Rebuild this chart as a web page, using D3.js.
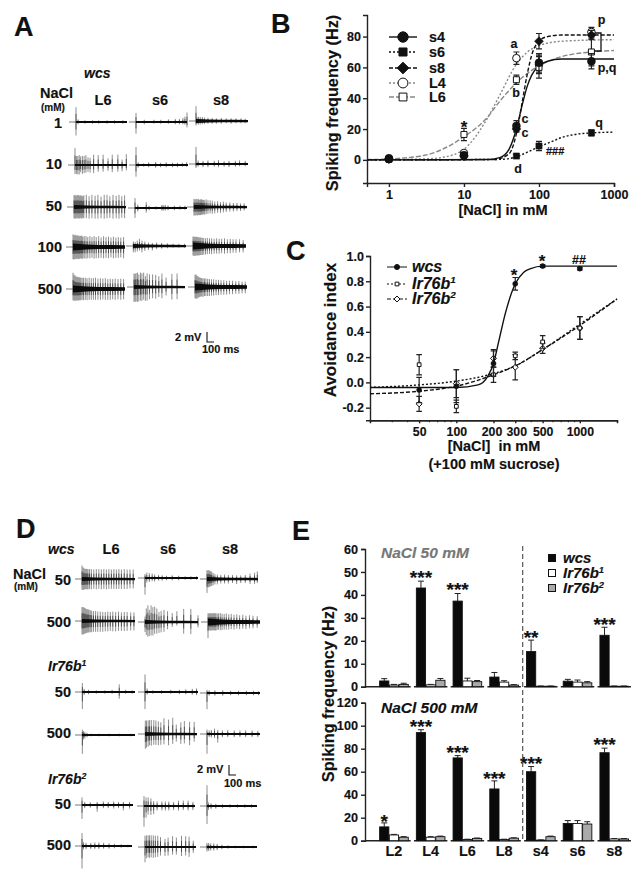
<!DOCTYPE html>
<html>
<head>
<meta charset="utf-8">
<script src="https://cdn.jsdelivr.net/npm/d3@7"></script>
<style>
  html, body { margin: 0; padding: 0; background: #fff; }
  svg { display: block; }
  text { font-family: "Liberation Sans", Arial, sans-serif; font-weight: bold; fill: #111; stroke: #111; stroke-width: 0.15; white-space: pre; }
  .ax path, .ax line { stroke: #222; stroke-width: 1.4; }
  .ax.minor line { stroke-width: 1; }
</style>
</head>
<body>
<svg id="fig" width="643" height="876"></svg>
<script>
"use strict";

// panel B : dose response, [NaCl] mM vs Hz
var doseB = [1, 10, 50, 100, 500];
var s4Val = [1, 3, 22, 63, 64], s4Err = [1, 1.5, 3.5, 6, 5];
var s6Val = [0.5, 3, 2.5, 9, 17.5], s6Err = [0.5, 1, 1, 3, 2];
var s8Val = [0.5, 2.5, 20, 77, 81], s8Err = [0.5, 1, 2, 5, 3];
var L4Val = [0.5, 4.5, 66, 62, 83], L4Err = [0.5, 1.5, 4, 6, 3];
var L6Val = [0.5, 16.5, 52, 60, 70], L6Err = [0.5, 4, 3, 7, 9];
var s4Fit = [[0.51, 0], [20, 0.2], [30, 1.5], [40, 7], [50, 20], [60, 36], [70, 48], [80, 55], [100, 61], [130, 64], [200, 65.5], [1000, 65.5]];
var s6Fit = [[0.51, 0], [30, 0.3], [50, 2], [70, 5], [100, 8.5], [150, 12], [200, 14.5], [300, 16.5], [500, 17.5], [1000, 18]];
var s8Fit = [[0.51, 0], [25, 0.2], [40, 4], [50, 17], [60, 38], [70, 56], [80, 68], [100, 77], [130, 80], [200, 81], [1000, 81]];
var L4Fit = [[0.51, 0], [1, 0.2], [3, 0.6], [5, 1.5], [10, 7], [20, 26], [30, 42], [50, 62], [70, 70], [100, 74], [200, 77], [1000, 78]];
var L6Fit = [[0.51, 0.2], [1, 0.6], [3, 3], [10, 15], [20, 27], [30, 38], [50, 50], [100, 61], [200, 67], [500, 70], [1000, 71]];

// panel C : avoidance index
var doseC = [50, 100, 200, 300, 500, 1000];
var wcsVal = [-0.06, -0.03, 0.15, 0.78, 0.92, 0.9], wcsErr = [0.1, 0.13, 0.1, 0.05, 0.01, 0.01];
var ir1Val = [0.14, -0.19, 0.06, 0.21, 0.32, 0.43], ir1Err = [0.08, 0.05, 0.06, 0.03, 0.05, 0.09];
var ir2Val = [-0.17, -0.01, 0.19, 0.12, 0.27, 0.43], ir2Err = [0.06, 0.11, 0.07, 0.1, 0.04, 0.09];
var wcsFit = [[20, -0.04], [100, -0.04], [150, -0.02], [180, 0.05], [200, 0.15], [220, 0.32], [250, 0.55], [300, 0.78], [350, 0.87], [400, 0.9], [500, 0.92], [2000, 0.92]];
var ir1Fit = [[20, -0.04], [50, -0.02], [100, 0.01], [200, 0.07], [300, 0.13], [500, 0.26], [1000, 0.46], [2000, 0.66]];
var ir2Fit = [[20, -0.09], [50, -0.07], [100, -0.03], [200, 0.06], [300, 0.13], [500, 0.26], [1000, 0.45], [2000, 0.66]];

// panel E : bars
var sensilla = ["L2", "L4", "L6", "L8", "s4", "s6", "s8"];
var genotypes = ["wcs", "ir1", "ir2"];
var wcs50 = [2.5, 43, 37.3, 4.2, 15.3, 2.4, 22.4], wcs50Err = [1, 3, 3.3, 2, 5, 0.8, 3.5];
var ir150 = [0.7, 0.8, 2.5, 2, 0.2, 2, 0.2], ir150Err = [0.3, 0.2, 1.2, 0.6, 0.1, 0.9, 0.1];
var ir250 = [1, 2.8, 2.2, 0.7, 0.2, 1.7, 0.2], ir250Err = [0.5, 0.8, 0.5, 0.2, 0.1, 0.5, 0.1];
var wcs500 = [12, 94, 72, 45, 60, 15, 76.5], wcs500Err = [3.5, 2.5, 2, 7, 4.5, 2.5, 4];
var ir1500 = [5, 3, 1, 1, 0.5, 15, 1.5], ir1500Err = [0.5, 0.5, 0.3, 0.3, 0.2, 2.5, 0.3];
var ir2500 = [3, 3.5, 2, 2.2, 3.5, 14.5, 1.5], ir2500Err = [0.5, 0.5, 0.3, 0.3, 0.5, 2, 0.3];
var stars50 = [["L4", "***", 47.4], ["L6", "***", 42.1], ["s4", "**", 21.2], ["s8", "***", 26.9]];
var stars500 = [["L2", "*", 16], ["L4", "***", 98.9], ["L6", "***", 76.3], ["L8", "***", 53.7], ["s4", "***", 66.7], ["s8", "***", 83.2]];

// recordings, each spike is [ms, up mV, down mV]
var a1L6 = [[0,3.3,3],[30,.6,.5],[130,.4,.4],[240,.4,.4],[330,.4,.4],[450,.4,.4],[560,.4,.4],[680,.4,.4]];
var a1s6 = [[0,2,2.6],[120,.5,.5],[260,.5,.4],[360,.5,.4],[470,.6,.4],[570,.7,.5],[630,.7,.5],[680,.9,.5],[710,1.2,.6],[740,2.1,1.2]];
var a1s8 = [[0,3.3,1],[15,.9,.7],[35,.9,.8],[60,.9,.8],[90,.9,.7],[120,.8,.7],[170,.7,.6],[230,.7,.6],[290,.6,.6],[360,.7,.6],[430,.6,.5],[500,.6,.6],[570,.6,.5],[640,.6,.5],[700,.5,.5]];
var a2L6 = [[0,3.8,2],[20,2,2],[40,2,2.1],[60,2.2,2.1],[80,1.9,1.6],[105,2,2],[130,2,1.8],[155,2.2,1.7],[185,1.7,1.5],[215,1.6,1.7],[265,2.3,1.8],[330,2.2,1.5],[400,2.3,1.5],[470,1.5,1.3],[530,2.3,1.6],[610,2.3,1.5],[670,1.2,1.4],[730,2.4,1.2]];
var a2s6 = [[0,4,2.6],[30,.6,.6],[110,.4,.4],[180,.6,.5],[280,.7,.6],[350,.5,.5],[430,.6,.5],[520,.5,.5],[590,.5,.5],[660,.5,.4],[720,.6,.4]];
var a2s8 = [[0,3.8,.9],[30,.8,.6],[100,.7,.7],[170,.8,.7],[260,.7,.6],[320,.9,.7],[400,.6,.6],[470,.7,.7],[560,.7,.6],[620,.8,.5],[700,.7,.5]];
var a3L6 = [[0,2.6,2.5],[14,2.7,2.6],[28,2.5,2.6],[42,2.6,2.4],[56,2.7,2.6],[70,2.6,2.5],[84,2.5,2.6],[98,2.6,2.4],[112,2.5,2.6],[126,2.4,2.4],[140,2.6,2.5],[175,2.7,2.5],[215,2.4,2.6],[255,2.7,2.5],[300,2.5,2.6],[340,2.7,2.6],[385,2.3,2.5],[430,2.7,2.6],[470,2.7,2.5],[510,2.4,2.4],[555,2.7,2.6],[600,2.5,2.5],[640,2.7,2.6],[680,2.4,2.4],[720,2.6,2.5]];
var a3s6 = [[0,2.2,2.2],[40,.8,.8],[160,1.3,1],[200,.5,.5],[300,.4,.4],[380,.6,.5],[400,.7,.6],[430,.7,.6],[470,.6,.5],[560,.5,.5],[640,.5,.4],[710,.5,.4]];
var a3s8 = [[0,1.8,1.9],[15,1.7,1.9],[30,1.8,1.8],[45,1.7,1.9],[60,1.8,1.8],[75,1.6,1.8],[90,1.7,1.8],[105,1.7,1.7],[120,1.6,1.7],[135,1.6,1.6],[150,1.5,1.7],[170,1.7,1.6],[195,1.5,1.5],[225,1.5,1.4],[255,1.4,1.5],[290,1.2,1.4],[330,1.3,1.3],[370,1.1,1.3],[410,1.2,1.2],[450,1,1.1],[500,1,1],[550,.9,1],[600,.9,.9],[650,.8,.9],[700,.8,.8]];
var a4L6 = [[0,2.8,2.7],[14,2.7,2.8],[28,2.6,2.7],[42,2.7,2.6],[56,2.5,2.7],[70,2.6,2.6],[84,2.5,2.7],[98,2.4,2.6],[112,2.5,2.5],[126,2.5,2.6],[140,2.3,2.6],[160,2.4,2.5],[185,2.4,2.6],[210,2.2,2.5],[240,2.4,2.5],[270,2.2,2.4],[300,2.4,2.6],[330,2.2,2.5],[365,2.4,2.5],[400,2.1,2.4],[435,2.4,2.5],[470,2.2,2.4],[505,2.3,2.5],[540,2.1,2.3],[575,2.3,2.5],[610,2.1,2.4],[645,2.2,2.4],[680,2.1,2.3],[720,2.2,2.5]];
var a4s6 = [[5,1,1.4],[30,.9,1.4],[60,1.2,1.2],[90,1.6,1],[125,1.2,1.4],[165,1,1.1],[215,.8,.9],[270,.7,1],[330,.8,.7],[400,.7,.6],[480,.6,.5],[560,.5,.4],[640,.5,.4],[720,.5,.4]];
var a4s8 = [[0,2.1,2.1],[14,2.1,2.2],[28,2,2.2],[42,2.1,2.1],[56,2,2.1],[70,2,2.1],[84,1.9,2.1],[98,1.9,2],[112,1.9,2],[130,1.8,2],[150,1.8,1.9],[175,1.7,1.9],[200,1.8,1.8],[230,1.7,1.8],[260,1.7,1.8],[295,1.6,1.7],[330,1.7,1.7],[365,1.6,1.7],[400,1.6,1.6],[440,1.7,1.7],[480,1.5,1.6],[520,1.6,1.6],[560,1.5,1.5],[600,1.5,1.5],[650,1.5,1.4],[700,1.3,1.4]];
var a5L6 = [[0,3.6,2.5],[14,3.2,2.6],[28,3,2.6],[42,2.8,2.6],[56,2.7,2.5],[70,2.7,2.6],[84,2.6,2.5],[98,2.6,2.5],[112,2.5,2.5],[130,2.5,2.4],[150,2.5,2.5],[175,2.5,2.4],[200,2.4,2.5],[230,2.5,2.4],[260,2.4,2.4],[290,2.4,2.4],[320,2.5,2.4],[355,2.3,2.4],[390,2.4,2.4],[425,2.3,2.3],[460,2.4,2.4],[495,2.2,2.4],[530,2.3,2.4],[565,2.2,2.3],[600,2.3,2.4],[640,2.2,2.3],[680,2.3,2.4],[720,2.2,2.3]];
var a5s6 = [[0,3,3.3],[15,2.9,3.3],[30,3.1,3.2],[50,3.2,3.3],[70,2.8,3.2],[95,3.2,3],[115,3,3.1],[140,3.2,2.8],[165,2.4,3.1],[190,3,3],[225,2.8,2.7],[270,2.8,2.5],[315,2.7,2.6],[360,2.4,2.2],[405,3,2.5],[465,2.1,1.9],[550,2.9,2.8],[625,3,2.7]];
var a5s8 = [[0,2.7,2.5],[14,2.8,2.6],[28,2.5,2.6],[42,2.4,2.4],[56,2.2,2.3],[70,2.1,2.2],[84,2,2.1],[98,2,2.1],[115,1.9,2.2],[135,1.9,2],[155,1.9,2],[180,1.8,2],[205,1.8,2],[235,1.7,1.9],[265,1.7,1.9],[300,1.6,1.8],[335,1.6,1.8],[370,1.5,1.7],[410,1.5,1.7],[450,1.4,1.7],[490,1.4,1.6],[535,1.4,1.6],[580,1.3,1.5],[625,1.3,1.5],[670,1.2,1.4],[715,1.2,1.4]];

var d1L6 = [[0,3,2.4],[14,2.6,2.4],[28,2.4,2.4],[42,2.2,2.3],[56,2.3,2.2],[70,2.2,2.3],[84,2.2,2.3],[105,2.2,2.2],[130,2.2,2.3],[165,2.1,2.2],[200,2.2,2.3],[235,2.2,2.2],[270,2.1,2.3],[305,2.2,2.2],[340,2.1,2.3],[375,2.2,2.2],[410,2.1,2.2],[445,2.2,2.2],[480,2.1,2.2],[515,2.2,2.2],[550,2.1,2.2],[590,2.2,2.2],[630,2.1,2.2],[670,2.1,2.1],[715,2.1,2.1]];
var d1s6 = [[0,.9,3.7],[25,1.2,1],[60,1.1,.9],[100,1,.7],[135,.8,.8],[190,.7,.6],[240,.6,.6],[300,.5,.5],[380,.6,.5],[470,.5,.5],[560,.4,.4],[640,.4,.4],[720,.4,.4]];
var d1s8 = [[0,2,3.1],[14,1.8,1.9],[28,2,1.8],[42,1.8,1.7],[56,1.7,1.6],[70,1.6,1.5],[90,1.3,1.4],[115,1.1,1.2],[150,1,1.2],[200,.9,1],[255,1,1],[310,.9,1],[370,.9,.9],[430,.8,1.1],[490,.8,.9],[555,.9,.9],[625,1.2,1.1],[690,1.4,1.1],[730,1.7,.9]];
var d2L6 = [[0,3.1,3],[14,3.1,3],[28,3,2.9],[42,2.9,2.8],[56,2.7,2.7],[70,2.6,2.6],[84,2.6,2.6],[98,2.5,2.5],[115,2.4,2.5],[135,2.3,2.5],[160,2.2,2.4],[190,2.2,2.4],[220,2.1,2.4],[255,2.1,2.4],[290,2,2.4],[325,2,2.3],[360,2.1,2.3],[395,2,2.2],[430,2.1,2.3],[470,2,2.3],[510,2.1,2.2],[550,1.9,2.2],[590,2,2.2],[630,2,2.2],[680,1.9,2.1],[725,1.9,2.1]];
var d2s6 = [[0,1.2,2.2],[18,3,2.9],[40,3.7,3.3],[60,2.7,3.1],[85,3.7,3],[110,3.3,3],[135,3.4,2.6],[165,3,2.6],[195,2.2,2.4],[225,2.5,2.3],[265,2.7,2.2],[315,2.4,1.6],[380,2,1.1],[445,2.4,.8],[540,2.9,2.6],[640,2.9,2.7],[740,1.5,1.2]];
var d2s8 = [[0,1.9,3.6],[14,1.9,1.8],[28,2,1.9],[42,1.9,1.9],[56,1.9,1.8],[70,2,1.9],[84,1.9,1.8],[98,2,1.9],[112,1.9,1.9],[130,1.9,1.8],[150,1.9,1.7],[175,2,1.8],[200,1.8,1.8],[230,1.8,1.7],[260,1.9,1.7],[295,1.7,1.7],[330,1.8,1.6],[370,1.6,1.7],[410,1.7,1.5],[450,1.5,1.6],[495,1.6,1.5],[540,1.4,1.6],[590,1.5,1.4],[640,1.4,1.4],[700,1.3,1.3]];
var d3L6 = [[5,2,3.8],[30,.7,.7],[90,.5,.5],[200,.4,.4],[320,.4,.4],[420,.5,.4],[520,1.7,1.5],[610,.5,.4],[700,.4,.4]];
var d3s6 = [[0,3.9,3.8],[30,.8,.6],[110,.4,.4],[230,.4,.4],[360,.5,.4],[480,.5,.5],[570,.6,.5],[660,.7,.6],[720,.8,.7]];
var d3s8 = [[0,.7,3.6],[30,.6,.6],[110,.6,.6],[220,.6,.6],[330,.5,.5],[440,.5,.5],[550,.5,.5],[650,.5,.5],[720,.4,.5]];
var d4L6 = [[5,1.2,4.2],[20,.9,1],[40,.7,.8],[70,.5,.5],[130,.3,.3],[240,.3,.3],[380,.3,.3],[520,.3,.3],[680,.3,.3]];
var d4s6 = [[5,3,3.3],[22,3,3],[45,3,2.8],[65,3.1,2.5],[90,3.1,2.6],[125,3.1,2.4],[155,3,2.4],[190,2.8,2.5],[225,2.6,2.4],[270,3.5,2.3],[335,3.2,2.5],[395,3.6,2.2],[445,2.1,1.7],[510,2.6,2.2],[560,2.9,2.1],[635,2.7,2.5],[700,2.7,1.7]];
var d4s8 = [[0,1,4.4],[30,.8,.7],[60,.9,.8],[105,1.2,.9],[150,.9,1.9],[215,.8,.7],[290,.9,.7],[380,.8,.7],[460,.8,.7],[540,.8,.7],[630,.8,.7],[710,.7,.7]];
var d5L6 = [[0,1.7,3.1],[40,.7,.7],[120,.6,.6],[220,.7,1.5],[310,.8,.7],[380,.7,.7],[460,.8,.8],[530,.7,.7],[600,.7,1.2],[690,.7,.8]];
var d5s6 = [[0,2.2,4.6],[30,1.9,2.6],[60,1.9,1.9],[100,1.7,2],[140,1.1,1.8],[190,1,1],[260,1,1],[310,1,1],[360,1,1],[430,.9,.9],[500,1.2,1],[570,1.2,.9],[640,1.2,1],[710,.9,.9]];
var d5s8 = [[0,4.6,4],[20,.8,.9],[60,.6,.7],[130,.5,.6],[230,.4,.5],[340,.4,.4],[450,.4,.4],[560,.4,.4],[660,.4,.4]];
var d6L6 = [[0,2.9,5],[20,.9,.8],[60,.7,.7],[130,.7,.7],[190,.8,.7],[250,.8,.7],[320,.7,.6],[400,.6,.6],[480,.5,.5],[580,.4,.4],[680,.3,.3]];
var d6s6 = [[0,2.5,3.4],[20,2.6,2.5],[45,2.6,2.3],[65,2.6,2.4],[90,2.6,2.3],[120,2.6,2.4],[150,2.5,2.3],[185,2.5,2.2],[225,2.2,1.9],[290,1.8,2],[335,2.1,1.9],[400,2.4,1.7],[455,2.1,1.7],[530,2.5,2],[590,2.4,1.9],[640,2.3,2.2],[700,1.4,1.3]];
var d6s8 = [[0,.9,1],[25,.9,.9],[55,.8,.8],[100,.8,.8],[150,.7,.7],[220,.5,.5],[310,.4,.4],[420,.3,.3],[540,.3,.3],[680,.3,.3]];

// half height of the dark baseline along each trace, mV
var coreThin = [.24, .22, .2, .22, .2];
var coreMid = [.45, .35, .3, .28, .25];
var coreFat = [.8, .55, .45, .42, .38];

var svg = d3.select("#fig");

// equal sided diamond, d3's own one is too narrow
var rhomb = {
  draw: function(ctx, size) {
    var r = Math.sqrt(size / 2);
    ctx.moveTo(0, -r);
    ctx.lineTo(r, 0);
    ctx.lineTo(0, r);
    ctx.lineTo(-r, 0);
    ctx.closePath();
  }
};

// ---------- helpers
function label(x, y, txt, size, anchor, extra) {
  var t = svg.append("text")
    .attr("x", x).attr("y", y)
    .attr("font-size", size)
    .attr("text-anchor", anchor || "start")
    .text(txt);
  if (extra) extra(t);
  return t;
}

function italic(t) { t.attr("font-style", "italic"); }

function withSup(x, y, name, sup, size) {
  var t = label(x, y, name, size, "start", italic);
  t.append("tspan").attr("dy", -size * 0.35).attr("font-size", size * 0.62).text(sup);
}

function vTitle(x, y, txt, size) {
  svg.append("text")
    .attr("transform", "translate(" + x + "," + y + ") rotate(-90)")
    .attr("text-anchor", "middle")
    .attr("font-size", size)
    .text(txt);
}

function drawTrace(t) {
  var g = svg.append("g");
  var time = d3.scaleLinear().domain([0, 740]).range([t[0], t[1]]);
  var volt = d3.scaleLinear().domain([-1, 1]).range([t[2] + 4.5, t[2] - 4.5]);

  g.append("line")
    .attr("x1", t[0] - 7).attr("x2", t[0])
    .attr("y1", t[2]).attr("y2", t[2])
    .attr("stroke", "#555").attr("stroke-width", 0.8);

  // pale tips, darker towards the baseline
  g.selectAll("line.spike").data(t[3]).enter().append("line")
    .attr("class", "spike")
    .attr("x1", function(d) { return time(d[0]); })
    .attr("x2", function(d) { return time(d[0]); })
    .attr("y1", function(d) { return volt(d[1]); })
    .attr("y2", function(d) { return volt(-d[2]); })
    .attr("stroke", "#444")
    .attr("stroke-opacity", 0.6)
    .attr("stroke-width", 1);
  g.selectAll("line.inner").data(t[3]).enter().append("line")
    .attr("class", "inner")
    .attr("x1", function(d) { return time(d[0]); })
    .attr("x2", function(d) { return time(d[0]); })
    .attr("y1", function(d) { return volt(d[1] * 0.55); })
    .attr("y2", function(d) { return volt(-d[2] * 0.55); })
    .attr("stroke", "#111")
    .attr("stroke-opacity", 0.55)
    .attr("stroke-width", 1);

  var area = d3.area()
    .x(function(d, i) { return time(i * 185); })
    .y0(function(d) { return volt(d); })
    .y1(function(d) { return volt(-d); });
  g.append("path").datum(t[4]).attr("d", area).attr("fill", "#0a0a0a");
}

// ---------- panel A
label(14, 36, "A", 27);
label(84, 78, "wcs", 14, "start", italic);
label(40, 98, "NaCl", 14.5);
label(41, 111, "(mM)", 10);
[["L6", 103], ["s6", 160], ["s8", 221]].forEach(function(c) { label(c[1], 105, c[0], 14.5, "middle"); });
[["1", 128], ["10", 169], ["50", 211], ["100", 252], ["500", 294]].forEach(function(r) { label(62, r[1], r[0], 14.5, "end"); });

var tracesA = [
  [76, 127, 122, a1L6, coreThin], [136, 187, 122, a1s6, coreThin], [196, 248, 121, a1s8, coreMid],
  [75, 127, 165, a2L6, coreThin], [136, 188, 165, a2s6, coreThin], [196, 248, 164, a2s8, coreThin],
  [74, 126, 207, a3L6, coreMid], [135, 187, 208, a3s6, coreThin], [194, 247, 207, a3s8, coreMid],
  [73, 125, 247, a4L6, coreFat], [133, 186, 246, a4s6, coreMid], [193, 246, 246, a4s8, coreFat],
  [73, 125, 289, a5L6, coreFat], [134, 185, 287, a5s6, coreMid], [195, 247, 287, a5s8, coreFat]
];
tracesA.forEach(drawTrace);

label(175, 341, "2 mV", 11);
label(202, 353, "100 ms", 11);
svg.append("path").attr("d", "M207,332V342H214").attr("fill", "none").attr("stroke", "#111").attr("stroke-width", 1.1);

// ---------- panel B
label(271, 33, "B", 27);
var xB = d3.scaleLog().domain([0.51, 1000]).range([367, 614]);
var yB = d3.scaleLinear().domain([-15, 94]).range([183, 15]);

svg.append("g").attr("class", "ax").attr("transform", "translate(0,183)")
  .call(d3.axisBottom(xB).tickValues([1, 10, 100, 1000]).tickFormat(d3.format("d")).tickSizeOuter(0).tickSize(4).tickPadding(3))
  .selectAll("text").attr("font-size", 12.5);
svg.append("g").attr("class", "ax").attr("transform", "translate(367,0)")
  .call(d3.axisLeft(yB).tickValues([0, 20, 40, 60, 80]).tickSizeOuter(0).tickSize(4).tickPadding(2))
  .selectAll("text").attr("font-size", 12.5);
svg.selectAll(".ax text").attr("fill", null).attr("font-family", null);

vTitle(338, 103, "Spiking frequency (Hz)", 16.3);
label(503, 215, "[NaCl] in mM", 14.6, "middle");

var lineB = d3.line().x(function(d) { return xB(d[0]); }).y(function(d) { return yB(d[1]); }).curve(d3.curveMonotoneX);

var seriesB = [
  { name: "L4", vals: L4Val, errs: L4Err, fit: L4Fit, sym: d3.symbolCircle, size: 45, open: true, color: "#888", dash: "2,2" },
  { name: "L6", vals: L6Val, errs: L6Err, fit: L6Fit, sym: d3.symbolSquare, size: 36, open: true, color: "#888", dash: "5,2" },
  { name: "s6", vals: s6Val, errs: s6Err, fit: s6Fit, sym: d3.symbolSquare, size: 38, color: "#111", dash: "2,2" },
  { name: "s4", vals: s4Val, errs: s4Err, fit: s4Fit, sym: d3.symbolCircle, size: 50, color: "#111", dash: null },
  { name: "s8", vals: s8Val, errs: s8Err, fit: s8Fit, sym: rhomb, size: 40, color: "#111", dash: "4,2" }
];

function errBars(xScale, yScale, xs, s, cap) {
  svg.append("g").selectAll("path").data(xs).enter().append("path")
    .attr("d", function(d, i) {
      var x = xScale(d), hi = yScale(s.vals[i] + s.errs[i]), lo = yScale(s.vals[i] - s.errs[i]);
      return "M" + (x - cap) + "," + hi + "H" + (x + cap) + "M" + x + "," + hi + "V" + lo + "M" + (x - cap) + "," + lo + "H" + (x + cap);
    })
    .attr("fill", "none").attr("stroke", "#222").attr("stroke-width", 1.2);
}

function marks(xScale, yScale, xs, s) {
  svg.append("g").selectAll("path").data(xs).enter().append("path")
    .attr("d", d3.symbol().type(s.sym).size(s.size))
    .attr("transform", function(d, i) { return "translate(" + xScale(d) + "," + yScale(s.vals[i]) + ")"; })
    .attr("fill", s.open ? "#fff" : "#111")
    .attr("stroke", "#111").attr("stroke-width", s.open ? 1 : 0.5);
}

seriesB.forEach(function(s) {
  svg.append("path").datum(s.fit).attr("d", lineB)
    .attr("fill", "none").attr("stroke", s.color).attr("stroke-width", 1.4)
    .attr("stroke-dasharray", s.dash);
});
seriesB.forEach(function(s) {
  errBars(xB, yB, doseB, s, 3);
  marks(xB, yB, doseB, s);
});

// legend B
[["s4", 37], ["s6", 52], ["s8", 68], ["L4", 83], ["L6", 97]].forEach(function(r) {
  var s = seriesB.filter(function(d) { return d.name === r[0]; })[0];
  svg.append("line").attr("x1", 389).attr("x2", 417).attr("y1", r[1]).attr("y2", r[1])
    .attr("stroke", s.color).attr("stroke-width", 1.4).attr("stroke-dasharray", s.dash);
  svg.append("path").attr("d", d3.symbol().type(s.sym).size(s.size * 1.7)())
    .attr("transform", "translate(403," + r[1] + ")")
    .attr("fill", s.open ? "#fff" : "#111").attr("stroke", "#111");
  label(429, r[1] + 5, r[0], 14.4);
});

[["a", 514, 48], ["b", 516, 97], ["c", 525, 123], ["c", 525, 136.5], ["d", 518, 173], ["p", 601.5, 24], ["p,q", 607, 72], ["q", 599, 127]].forEach(function(a) {
  label(a[1], a[2], a[0], 12.5, "middle");
});
label(546, 155, "###", 11);
label(464, 132.5, "*", 17, "middle");
svg.append("path").attr("d", "M595,33H601V51H595").attr("fill", "none").attr("stroke", "#111").attr("stroke-width", 1.3);

// ---------- panel C
label(286, 260, "C", 27);
var xC = d3.scaleLog().domain([20, 2000]).range([370, 617]);
var yC = d3.scaleLinear().domain([-0.3, 1]).range([420.3, 256]);

svg.append("g").attr("class", "ax minor").attr("transform", "translate(0,420.3)")
  .call(d3.axisBottom(xC).tickValues([20, 30, 40, 60, 70, 80, 90, 400, 600, 700, 800, 900, 2000]).tickFormat("").tickSizeOuter(0).tickSize(2));
var ticksC = svg.append("g").attr("class", "ax").attr("transform", "translate(0,420.3)")
  .call(d3.axisBottom(xC).tickValues(doseC).tickFormat(d3.format("d")).tickSizeOuter(0).tickSize(3).tickPadding(4));
ticksC.selectAll("text").attr("font-size", 12.3)
  .attr("dx", function(d) { return d === 200 ? -2 : d === 300 ? 1 : 0; });
svg.append("g").attr("class", "ax").attr("transform", "translate(370,0)")
  .call(d3.axisLeft(yC).tickValues([-0.2, 0, 0.2, 0.4, 0.6, 0.8, 1]).tickFormat(function(d) { return d.toFixed(1); }).tickSizeOuter(0).tickSize(4).tickPadding(2))
  .selectAll("text").attr("font-size", 12.5);
svg.selectAll(".ax text").attr("fill", null).attr("font-family", null);

vTitle(336, 330, "Avoidance index", 17);
label(494, 451, "[NaCl]  in mM", 14.5, "middle");
label(494, 469, "(+100 mM sucrose)", 14.5, "middle");

var lineC = d3.line().x(function(d) { return xC(d[0]); }).y(function(d) { return yC(d[1]); }).curve(d3.curveMonotoneX);
var seriesC = [
  { vals: ir2Val, errs: ir2Err, fit: ir2Fit, sym: rhomb, size: 18, open: true, dash: "4,2" },
  { vals: ir1Val, errs: ir1Err, fit: ir1Fit, sym: d3.symbolSquare, size: 14, open: true, dash: "2,2" },
  { vals: wcsVal, errs: wcsErr, fit: wcsFit, sym: d3.symbolCircle, size: 20, dash: null }
];
seriesC.forEach(function(s) {
  svg.append("path").datum(s.fit).attr("d", lineC)
    .attr("fill", "none").attr("stroke", "#111").attr("stroke-width", 1.4)
    .attr("stroke-dasharray", s.dash);
  errBars(xC, yC, doseC, s, 2.8);
  marks(xC, yC, doseC, s);
});

[[seriesC[2], 267], [seriesC[1], 284], [seriesC[0], 299]].forEach(function(r) {
  svg.append("line").attr("x1", 387).attr("x2", 407).attr("y1", r[1]).attr("y2", r[1])
    .attr("stroke", "#111").attr("stroke-width", 1).attr("stroke-dasharray", r[0].dash);
  svg.append("path").attr("d", d3.symbol().type(r[0].sym).size(r[0].size)())
    .attr("transform", "translate(397," + r[1] + ")")
    .attr("fill", r[0].open ? "#fff" : "#111").attr("stroke", "#111");
});
label(412, 272, "wcs", 16, "start", italic);
withSup(412, 289, "Ir76b", "1", 16);
withSup(412, 304, "Ir76b", "2", 16);
label(514, 281, "*", 17, "middle");
label(542, 267, "*", 17, "middle");
label(579, 263.5, "##", 12.5, "middle");

// ---------- panel D
label(16, 538, "D", 27);
label(48, 554, "wcs", 14, "start", italic);
[["L6", 111], ["s6", 168], ["s8", 230]].forEach(function(c) { label(c[1], 554, c[0], 14.5, "middle"); });
label(13, 579, "NaCl", 14.5);
label(14, 590, "(mM)", 10);
[["50", 585], ["500", 627], ["50", 697], ["500", 738], ["50", 809], ["500", 850]].forEach(function(r) { label(71, r[1], r[0], 14.5, "end"); });
withSup(48, 671, "Ir76b", "1", 14);
withSup(48, 784, "Ir76b", "2", 14);

var tracesD = [
  [82, 135, 579, d1L6, coreMid], [145, 198, 578, d1s6, coreThin], [207, 258, 579, d1s8, coreMid],
  [82, 135, 621, d2L6, coreMid], [145, 198, 622, d2s6, coreMid], [208, 260, 622, d2s8, coreFat],
  [82, 135, 692, d3L6, coreThin], [145, 198, 692, d3s6, coreThin], [207, 260, 693, d3s8, coreThin],
  [82, 135, 735, d4L6, coreThin], [145, 197, 734, d4s6, coreMid], [207, 260, 734, d4s8, coreThin],
  [82, 133, 805, d5L6, coreThin], [144, 195, 806, d5s6, coreThin], [207, 257, 806, d5s8, coreThin],
  [82, 132, 846, d6L6, coreThin], [145, 196, 847, d6s6, coreThin], [207, 257, 847, d6s8, coreThin]
];
tracesD.forEach(drawTrace);

label(197, 773, "2 mV", 11);
label(224, 787, "100 ms", 11);
svg.append("path").attr("d", "M229,765V775H236").attr("fill", "none").attr("stroke", "#111").attr("stroke-width", 1.1);

// ---------- panel E
label(292, 540, "E", 27);
var x0 = d3.scaleBand().domain(sensilla).range([375.6, 632.6]).paddingInner(0.22).paddingOuter(0.11);
var x1 = d3.scaleBand().domain(genotypes).range([0, x0.bandwidth()]).paddingInner(0.05);
var yTop = d3.scaleLinear().domain([0, 60]).range([686.7, 549]);
var yBot = d3.scaleLinear().domain([0, 120]).range([840.7, 702.7]);
var fills = { wcs: "#0a0a0a", ir1: "#fff", ir2: "#aaa" };

function barPanel(yS, ticks, rows, stars) {
  svg.append("g").attr("class", "ax").attr("transform", "translate(365,0)")
    .call(d3.axisLeft(yS).tickValues(ticks).tickSizeOuter(0).tickSize(4).tickPadding(3))
    .selectAll("text").attr("font-size", 12.7);
  svg.selectAll(".ax text").attr("fill", null).attr("font-family", null);

  svg.append("g").selectAll("line").data(sensilla).enter().append("line")
    .attr("x1", function(d, i) { return i === 0 ? 365 : x0(d) - 2.4; })
    .attr("x2", function(d) { return x0(d) + x0.bandwidth() + 2.4; })
    .attr("y1", yS(0)).attr("y2", yS(0))
    .attr("stroke", "#222").attr("stroke-width", 1.5);

  rows.forEach(function(r, k) {
    var g = svg.append("g");
    sensilla.forEach(function(c, i) {
      var x = x0(c) + x1(genotypes[k]), w = x1.bandwidth(), top = yS(r.vals[i] + r.errs[i]);
      g.append("path")
        .attr("d", "M" + (x + w / 2) + "," + yS(r.vals[i]) + "V" + top + "M" + (x + w / 2 - 3) + "," + top + "H" + (x + w / 2 + 3))
        .attr("stroke", "#222").attr("stroke-width", 1).attr("fill", "none");
      g.append("rect")
        .attr("x", x).attr("width", w)
        .attr("y", yS(r.vals[i])).attr("height", yS(0) - yS(r.vals[i]))
        .attr("fill", fills[genotypes[k]])
        .attr("stroke", "#111").attr("stroke-width", 0.9);
    });
  });

  stars.forEach(function(s) {
    label(x0(s[0]) + x1("wcs") + x1.bandwidth() / 2, yS(s[2]) + 6, s[1], 19, "middle");
  });
}

barPanel(yTop, [0, 10, 20, 30, 40, 50, 60], [
  { vals: wcs50, errs: wcs50Err }, { vals: ir150, errs: ir150Err }, { vals: ir250, errs: ir250Err }
], stars50);
barPanel(yBot, [0, 20, 40, 60, 80, 100, 120], [
  { vals: wcs500, errs: wcs500Err }, { vals: ir1500, errs: ir1500Err }, { vals: ir2500, errs: ir2500Err }
], stars500);

vTitle(334, 694, "Spiking frequency (Hz)", 16.3);
sensilla.forEach(function(c) { label(x0(c) + x0.bandwidth() / 2, 856, c, 14.4, "middle"); });

label(381, 558, "NaCl 50 mM", 15.5, "start", function(t) { t.attr("font-style", "italic").style("fill", "#777").style("stroke", "#777"); });
label(381, 713, "NaCl 500 mM", 15.5, "start", italic);

svg.append("line").attr("x1", 522.7).attr("x2", 522.7).attr("y1", 546).attr("y2", 841)
  .attr("stroke", "#555").attr("stroke-width", 1.2).attr("stroke-dasharray", "5,3");

[["wcs", 558], ["ir1", 573], ["ir2", 588]].forEach(function(r) {
  svg.append("rect").attr("x", 548.5).attr("y", r[1] - 3.5).attr("width", 7).attr("height", 7)
    .attr("fill", fills[r[0]]).attr("stroke", "#111");
});
label(563, 563, "wcs", 15, "start", italic);
withSup(563, 578, "Ir76b", "1", 15);
withSup(563, 593, "Ir76b", "2", 15);
</script>
</body>
</html>
